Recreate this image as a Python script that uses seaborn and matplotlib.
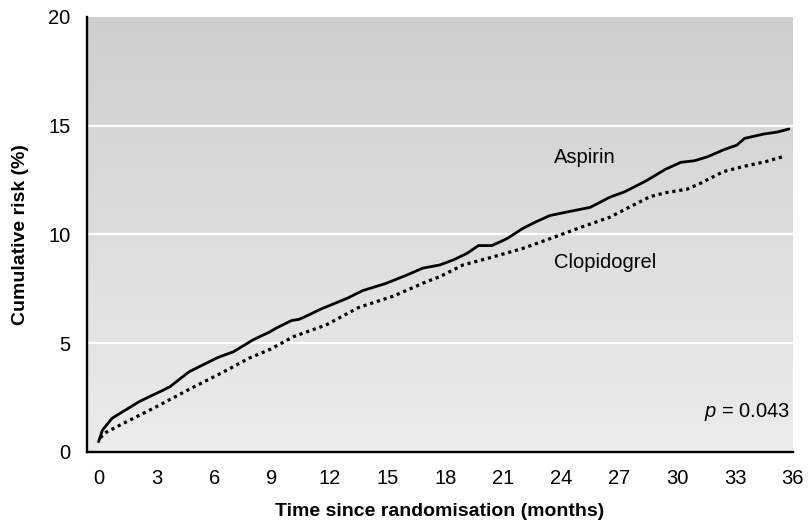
import numpy as np
import pandas as pd
import seaborn as sns
import matplotlib.pyplot as plt
from matplotlib.colors import LinearSegmentedColormap

# ---- data ----
aspirin_months = [0.0, 0.2, 0.7, 1.4, 2.1, 2.7, 3.3, 3.7, 4.7, 5.4, 6.2, 7.0, 8.0, 8.9,
                  9.2, 10.0, 10.4, 10.9, 11.5, 12.9, 13.7, 14.9, 16.0, 16.8, 17.7, 18.4,
                  19.1, 19.7, 20.4, 21.2, 22.0, 22.7, 23.4, 24.1, 25.5, 26.5, 27.3, 28.4,
                  29.4, 30.2, 30.9, 31.6, 32.4, 33.1, 33.5, 34.5, 35.2, 35.8]
aspirin_risk = [0.47, 1.0, 1.55, 1.93, 2.31, 2.57, 2.82, 3.0, 3.69, 4.0, 4.35, 4.61, 5.15, 5.53,
                5.69, 6.04, 6.1, 6.3, 6.56, 7.07, 7.42, 7.75, 8.14, 8.45, 8.6, 8.83,
                9.13, 9.49, 9.49, 9.82, 10.28, 10.59, 10.87, 11.0, 11.25, 11.71, 11.97, 12.47,
                13.0, 13.32, 13.39, 13.58, 13.89, 14.11, 14.42, 14.62, 14.71, 14.85]

clopi_months = [0.1, 0.3, 1.3, 3.0, 4.7, 6.5, 7.8, 8.9, 10.1, 11.8, 13.5, 15.3, 17.0, 17.7,
                18.9, 20.5, 22.0, 23.7, 25.1, 26.5, 27.4, 28.6, 29.4, 30.5, 31.2, 32.4,
                33.4, 34.6, 35.6]
clopi_risk = [0.65, 0.86, 1.32, 2.08, 2.88, 3.69, 4.31, 4.72, 5.3, 5.84, 6.65, 7.17, 7.83, 8.06,
              8.6, 8.98, 9.36, 9.9, 10.36, 10.79, 11.2, 11.74, 11.92, 12.08, 12.35, 12.89,
              13.12, 13.35, 13.61]

x_ticks = list(range(0, 37, 3))
y_ticks = [0, 5, 10, 15, 20]

# ---- plot ----
sns.set_theme(style="white")
plt.rcParams['font.family'] = ['Liberation Sans', 'DejaVu Sans']
plt.rcParams.update({
    "text.color": "black", "axes.labelcolor": "black",
    "xtick.color": "black", "ytick.color": "black",
    "mathtext.fontset": "custom", "mathtext.it": "Liberation Sans:italic",
})

fig = plt.figure(figsize=(8.09, 5.23), dpi=100)
ax = fig.add_axes([0.1075, 0.1358, 0.8725, 0.8317])
ax.set_xlim(-0.6, 36)
ax.set_ylim(0, 20)

# grey vertical gradient background
bg = LinearSegmentedColormap.from_list("bg", ["#cecece", "#ececec"])
grad = np.linspace(0, 1, 256).reshape(-1, 1)
ax.imshow(grad, cmap=bg, vmin=0, vmax=1, aspect="auto",
          extent=[-0.6, 36, 0, 20], origin="upper", zorder=0)

for yv in [5, 10, 15]:
    ax.axhline(yv, color="white", lw=1.6, zorder=1)

df_a = pd.DataFrame({"month": aspirin_months, "risk": aspirin_risk})
df_c = pd.DataFrame({"month": clopi_months, "risk": clopi_risk})
sns.lineplot(data=df_a, x="month", y="risk", ax=ax, color="black", lw=2.0, zorder=3)
sns.lineplot(data=df_c, x="month", y="risk", ax=ax, color="black", lw=2.3,
             linestyle=(0, (1, 1.2)), zorder=3)

ax.text(23.6, 13.55, "Aspirin", fontsize=14.5, va="center", ha="left")
ax.text(23.6, 8.7, "Clopidogrel", fontsize=14.5, va="center", ha="left")
ax.text(35.85, 1.85, "$p$ = 0.043", fontsize=14.5, va="center", ha="right")

ax.set_xticks(x_ticks)
ax.set_yticks(y_ticks)
ax.tick_params(axis="x", direction="in", length=8, width=1.2,
               labelsize=14.5, pad=12)
ax.tick_params(axis="y", length=0, labelsize=14.5, pad=12)
for t in ax.xaxis.get_major_ticks():
    t.tick1line.set_clip_on(False)

for s in ["top", "right"]:
    ax.spines[s].set_visible(False)
for s in ["left", "bottom"]:
    ax.spines[s].set_color("black")
    ax.spines[s].set_linewidth(1.7)

ax.set_xlabel("Time since randomisation (months)", fontsize=14, fontweight="bold", labelpad=11)
ax.set_ylabel("Cumulative risk (%)", fontsize=14, fontweight="bold", labelpad=14)

fig.savefig("out.png", dpi=100)
